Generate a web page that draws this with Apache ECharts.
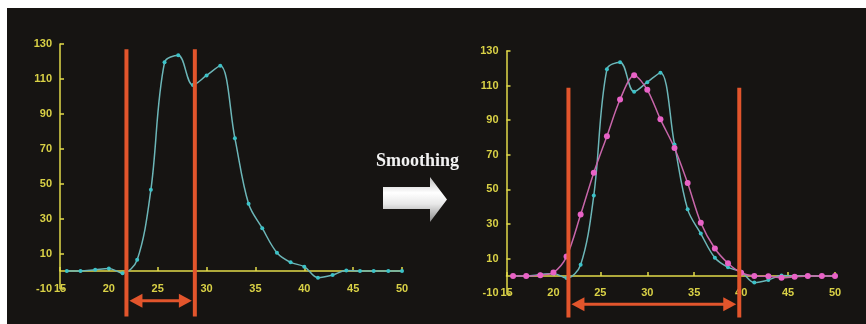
<!DOCTYPE html>
<html>
<head>
<meta charset="utf-8">
<script src="https://cdn.jsdelivr.net/npm/echarts@6/dist/echarts.min.js"></script>
<style>
  html, body { margin: 0; padding: 0; background: #ffffff; }
  #chart { position: absolute; left: 7px; top: 8px; width: 859px; height: 316px; }
</style>
</head>
<body>
<div id="chart"></div>
<script>
// ---- data ----
const xValues = [15.7, 17.1, 18.6, 20.0, 21.4, 22.9, 24.3, 25.7, 27.1, 28.6, 30.0, 31.4, 32.9, 34.3, 35.7, 37.2, 38.6, 40.0, 41.4, 42.9, 44.3, 45.7, 47.1, 48.6, 50.0];
const rawValues = [0, 0, 0.8, 1.5, -1.2, 6.5, 46.5, 119.5, 123.5, 106.5, 112, 117.5, 76, 38.5, 24.5, 10.5, 5, 2.5, -3.8, -2.3, 0.3, 0, 0, 0, 0];
const smoothValues = [0, 0, 0.5, 2, 11.2, 35.5, 59.7, 80.8, 102, 116, 107.6, 90.5, 74, 53.7, 30.8, 15.9, 7.4, 1.9, 0, -0.2, -1, -0.5, 0, 0, 0];
const xTicks = [15, 20, 25, 30, 35, 40, 45, 50];
const yTicks = [-10, 10, 30, 50, 70, 90, 110, 130];
// orange cut-off markers: [x1, x2, lineTop, lineBottom, arrowY]
const leftMarker = [21.8, 28.8, 127, -26, -17];
const rightMarker = [21.6, 39.8, 108.7, -24, -16.3];
const middleLabel = 'Smoothing';

// ---- styles ----
const YELLOW = '#e2da4a';
const LABEL = '#d9d146';
const CYAN_LINE = '#6cb6b8';
const CYAN_PT = '#3cc2c8';
const MAG_LINE = '#c866aa';
const MAG_PT = '#e862c6';
const ORANGE = '#e2552c';

function pairs(xs, ys) { return xs.map((x, i) => [x, ys[i]]); }

function xAxisDef(gridIndex) {
  return {
    type: 'value', gridIndex: gridIndex,
    min: 15, max: 50, interval: 5,
    axisLine: { show: true, onZero: true, lineStyle: { color: YELLOW, width: 1.5 } },
    axisTick: { show: true, inside: true, length: 4, lineStyle: { color: YELLOW, width: 1.5 } },
    axisLabel: { show: true, color: LABEL, fontFamily: 'Liberation Sans, Arial, sans-serif',
                 fontWeight: 'bold', fontSize: 11, margin: 0, verticalAlign: 'middle',
                 customValues: xTicks },
    splitLine: { show: false }
  };
}
function yAxisDef(gridIndex) {
  return {
    type: 'value', gridIndex: gridIndex,
    min: -10, max: 130,
    axisLine: { show: true, lineStyle: { color: YELLOW, width: 1.5 } },
    axisTick: { show: true, inside: true, length: 4, lineStyle: { color: YELLOW, width: 1.5 }, customValues: yTicks },
    axisLabel: { show: true, color: LABEL, fontFamily: 'Liberation Sans, Arial, sans-serif',
                 fontWeight: 'bold', fontSize: 11, margin: 8, customValues: yTicks },
    splitLine: { show: false }
  };
}

function markerSeries(idx, marker) {
  return {
    type: 'custom', xAxisIndex: idx, yAxisIndex: idx, z: 10, clip: false,
    data: [marker],
    encode: { x: [0, 1], y: [2, 3, 4] },
    silent: true,
    renderItem: function (params, api) {
      const x1 = api.value(0), x2 = api.value(1);
      const yTop = api.value(2), yBot = api.value(3), yArr = api.value(4);
      const t1 = api.coord([x1, yTop]), b1 = api.coord([x1, yBot]);
      const t2 = api.coord([x2, yTop]), b2 = api.coord([x2, yBot]);
      const a = api.coord([x1, yArr]), b = api.coord([x2, yArr]);
      const lx = a[0] + 3, rx = b[0] - 3, y = a[1];
      const head = 13, half = 7;
      const st = { stroke: ORANGE, lineWidth: 4 };
      return {
        type: 'group',
        children: [
          { type: 'line', shape: { x1: t1[0], y1: t1[1], x2: b1[0], y2: b1[1] }, style: st },
          { type: 'line', shape: { x1: t2[0], y1: t2[1], x2: b2[0], y2: b2[1] }, style: st },
          { type: 'line', shape: { x1: lx + head - 2, y1: y, x2: rx - head + 2, y2: y }, style: { stroke: ORANGE, lineWidth: 3 } },
          { type: 'polygon', shape: { points: [[lx, y], [lx + head, y - half], [lx + head, y + half]] }, style: { fill: ORANGE } },
          { type: 'polygon', shape: { points: [[rx, y], [rx - head, y - half], [rx - head, y + half]] }, style: { fill: ORANGE } }
        ]
      };
    }
  };
}

const chart = echarts.init(document.getElementById('chart'), null, { renderer: 'canvas' });
chart.setOption({
  backgroundColor: '#161412',
  animation: false,
  grid: [
    { left: 53, top: 36, width: 342, height: 244.5, containLabel: false },
    { left: 499.5, top: 43, width: 328.5, height: 242.3, containLabel: false }
  ],
  xAxis: [xAxisDef(0), xAxisDef(1)],
  yAxis: [yAxisDef(0), yAxisDef(1)],
  series: [
    {
      type: 'line', xAxisIndex: 0, yAxisIndex: 0, smooth: 0.35,
      data: pairs(xValues, rawValues),
      symbol: 'circle', symbolSize: 4,
      itemStyle: { color: CYAN_PT },
      lineStyle: { color: CYAN_LINE, width: 1.5 }
    },
    {
      type: 'line', xAxisIndex: 1, yAxisIndex: 1, smooth: 0.35,
      data: pairs(xValues, rawValues),
      symbol: 'circle', symbolSize: 4,
      itemStyle: { color: CYAN_PT },
      lineStyle: { color: CYAN_LINE, width: 1.5 }
    },
    {
      type: 'line', xAxisIndex: 1, yAxisIndex: 1, smooth: 0.3,
      data: pairs(xValues, smoothValues),
      symbol: 'circle', symbolSize: 6,
      itemStyle: { color: MAG_PT },
      lineStyle: { color: MAG_LINE, width: 1.5 }
    },
    markerSeries(0, leftMarker),
    markerSeries(1, rightMarker)
  ],
  graphic: [
    {
      type: 'text', left: 369, top: 144,
      style: { text: middleLabel, fill: '#f2f2f2', font: 'bold 18px "Liberation Serif", "Times New Roman", serif' }
    },
    {
      type: 'polygon',
      shape: { points: [[376, 179], [423, 179], [423, 169], [440, 191.5], [423, 214], [423, 201], [376, 201]] },
      style: {
        fill: new echarts.graphic.LinearGradient(0, 0, 0, 1, [
          { offset: 0, color: '#bdbdbd' },
          { offset: 0.35, color: '#ffffff' },
          { offset: 0.6, color: '#e8e8e8' },
          { offset: 1, color: '#8a8a8a' }
        ])
      }
    }
  ]
});
</script>
</body>
</html>
